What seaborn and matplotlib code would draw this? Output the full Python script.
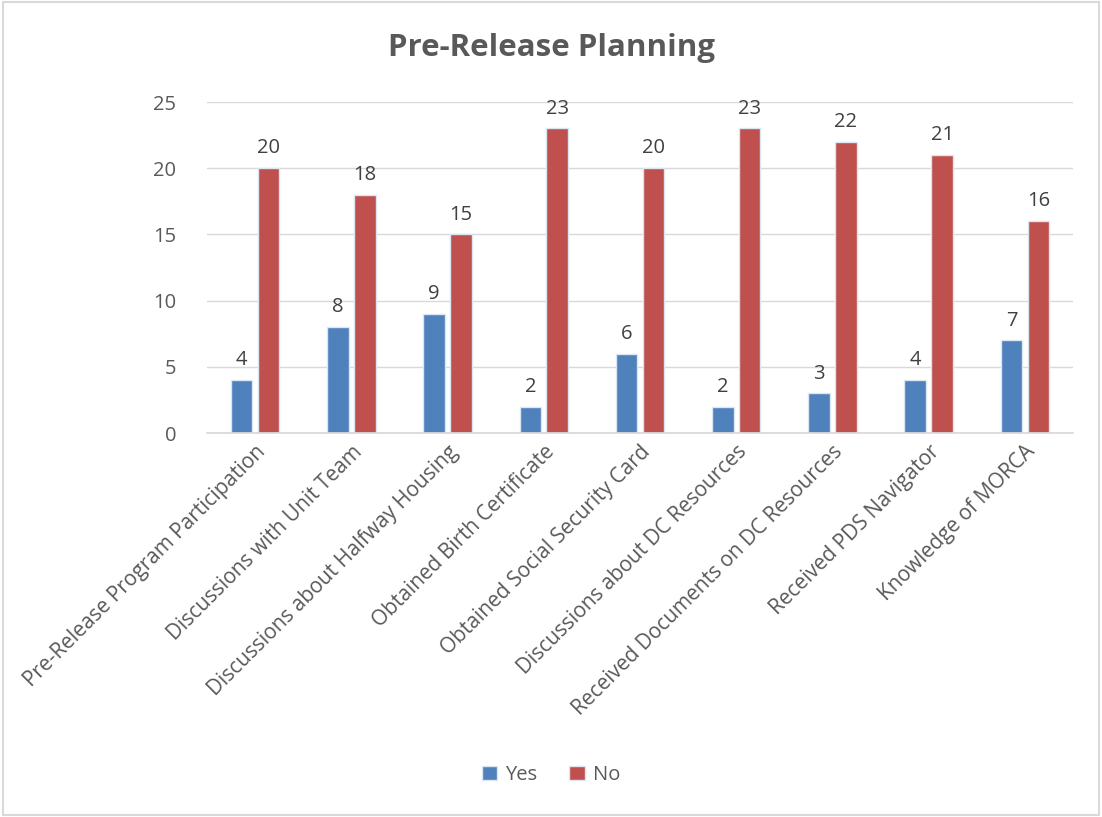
import matplotlib
matplotlib.use("Agg")
import matplotlib.pyplot as plt
import seaborn as sns
import pandas as pd
from matplotlib.patches import Rectangle

categories = [
    "Pre-Release Program Participation",
    "Discussions with Unit Team",
    "Discussions about Halfway Housing",
    "Obtained Birth Certificate",
    "Obtained Social Security Card",
    "Discussions about DC Resources",
    "Received Documents on DC Resources",
    "Received PDS Navigator",
    "Knowledge of MORCA",
]
yes_values = [4, 8, 9, 2, 6, 2, 3, 4, 7]
no_values = [20, 18, 15, 23, 20, 23, 22, 21, 16]
series = ["Yes", "No"]
colors = ["#4F81BD", "#C0504D"]

df = pd.DataFrame({
    "category": categories * 2,
    "value": yes_values + no_values,
    "series": ["Yes"] * len(categories) + ["No"] * len(categories),
})

sns.set_theme(style="white")
plt.rcParams["font.family"] = ["Open Sans", "DejaVu Sans"]
text_color = "#595959"

fig = plt.figure(figsize=(11.02, 8.17), dpi=100)
ax = fig.add_axes([207 / 1102, 1 - 433 / 817, (1073 - 207) / 1102, (433 - 102) / 817])

sns.barplot(data=df, x="category", y="value", hue="series", hue_order=series,
            palette=colors, order=categories, width=0.56, gap=0.2, saturation=1,
            edgecolor="#DCE6F2", linewidth=1.0, ax=ax, legend=True)

for container in ax.containers:
    ax.bar_label(container, padding=7, fontsize=14.5, color="#404040")

ax.set_ylim(0, 25)
ax.set_yticks([0, 5, 10, 15, 20, 25])
ax.set_xlim(-0.5, len(categories) - 0.5)
ax.yaxis.grid(True, color="#D9D9D9", linewidth=1)
ax.set_axisbelow(True)
for s in ["top", "right", "left"]:
    ax.spines[s].set_visible(False)
ax.spines["bottom"].set_color("#D9D9D9")
ax.set_xlabel("")
ax.set_ylabel("")
ax.tick_params(axis="y", length=0, pad=22, labelsize=14.5, labelcolor=text_color)
ax.tick_params(axis="x", length=0, pad=6, labelsize=15, labelcolor=text_color)
plt.setp(ax.get_xticklabels(), rotation=45, ha="right", rotation_mode="anchor")

fig.suptitle("Pre-Release Planning", x=0.5, y=1 - 48 / 817, fontsize=22.5,
             fontweight="bold", color=text_color, va="center")

handles, labels = ax.get_legend_handles_labels()
ax.legend_.remove()
fig.legend(handles, labels, loc="center", bbox_to_anchor=(0.5, 1 - 775 / 817),
           ncol=2, frameon=False, fontsize=14.5, handlelength=0.75, handleheight=0.75,
           columnspacing=1.6, handletextpad=0.4, labelcolor=text_color)

fig.patches.append(Rectangle((0.003, 0.003), 0.994, 0.994, transform=fig.transFigure,
                             fill=False, edgecolor="#D9D9D9", linewidth=1.5))

fig.savefig("out.png", dpi=100)
